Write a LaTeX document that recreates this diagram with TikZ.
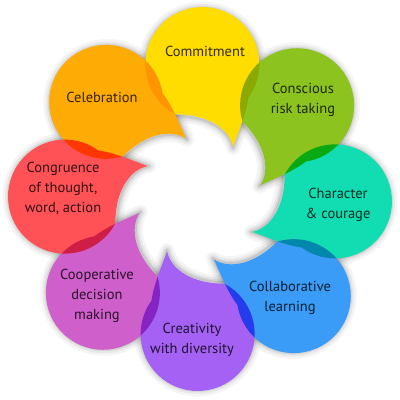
\documentclass[tikz,border=0pt]{standalone}
\usepackage{fontspec}
\setmainfont{PT Sans}
\definecolor{cyellow}{HTML}{FFDD00}
\definecolor{cgreen}{HTML}{8CC31E}
\definecolor{cteal}{HTML}{12DDB2}
\definecolor{cblue}{HTML}{3A9CF7}
\definecolor{cpurple}{HTML}{A461F4}
\definecolor{cmagenta}{HTML}{CF5FCB}
\definecolor{cred}{HTML}{FF5257}
\definecolor{corange}{HTML}{FFAB05}
\newcommand{\bubblepath}{(243:57) arc[start angle=243, end angle=-35, radius=57] .. controls (45,-48) and (37,-68) .. (32,-82) .. controls (28,-64) and (6,-50) .. cycle}
\tikzset{
  lbl/.style={align=center, font=\fontsize{14.5}{20}\selectfont, text=black, text opacity=0.8, inner sep=0pt},
  bubblepos/.style={shift={(200,201)}, rotate=#1, shift={(135,0)}, rotate=-90}
}
\begin{document}
\begin{tikzpicture}[x=1pt,y=1pt]
\useasboundingbox (0,0) rectangle (400,400);
\fill[white] (0,0) rectangle (400,400);
% soft shadows
\foreach \k in {0,...,7} {
  \pgfmathsetmacro\ang{89-45*\k}
  \begin{scope}[bubblepos=\ang, yshift=-1.5pt]
    \draw[black, opacity=0.04, line width=14pt, line join=round] \bubblepath;
    \draw[black, opacity=0.05, line width=9pt, line join=round] \bubblepath;
    \draw[black, opacity=0.07, line width=5pt, line join=round] \bubblepath;
    \draw[black, opacity=0.08, line width=2pt, line join=round] \bubblepath;
  \end{scope}
}
% coloured bubbles
\begin{scope}[blend group=multiply]
\foreach \col [count=\k from 0] in {cyellow,cgreen,cteal,cblue,cpurple,cmagenta,cred,corange} {
  \pgfmathsetmacro\ang{89-45*\k}
  \begin{scope}[bubblepos=\ang]
    \fill[\col] \bubblepath;
  \end{scope}
}
\end{scope}
% labels
\node[lbl] (commit) at (205,349) {Commitment};
\node[lbl] (risk) at (303,300) {Conscious\\risk taking};
\node[lbl] (charac) at (338,195) {Character\\\& courage};
\node[lbl] (collab) at (290,102) {Collaborative\\learning};
\node[lbl] (creat) at (192,60) {Creativity\\with diversity};
\node[lbl] (coop) at (97,104) {Cooperative\\decision\\making};
\node[lbl] (congr) at (63,212) {Congruence\\of thought,\\word, action};
\node[lbl] (celeb) at (102,303) {Celebration};
\end{tikzpicture}
\end{document}
